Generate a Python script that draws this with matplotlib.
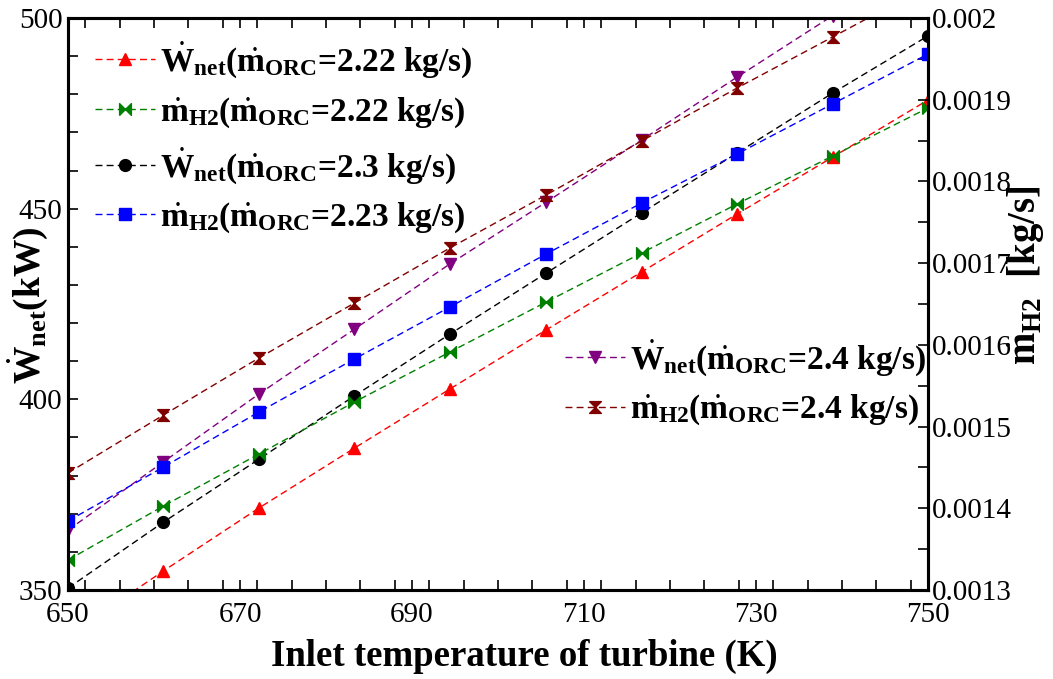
import matplotlib
matplotlib.use('Agg')
import matplotlib.pyplot as plt
from matplotlib.ticker import MultipleLocator, FuncFormatter
import numpy as np

plt.rcParams['font.family'] = 'Liberation Serif'
plt.rcParams['mathtext.fontset'] = 'custom'
plt.rcParams['mathtext.rm'] = 'Liberation Serif'
plt.rcParams['mathtext.bf'] = 'Liberation Serif:bold'
plt.rcParams['mathtext.it'] = 'Liberation Serif:italic'

# inlet temperature of turbine (K)
temp = [650.0, 661.1, 672.2, 683.3, 694.4, 705.6, 716.7, 727.8, 738.9, 750.0]

# net power (kW), left axis
w_222 = [338.0, 355.0, 371.5, 387.2, 402.7, 418.2, 433.4, 448.6, 463.5, 478.5]
w_23 = [350.5, 367.8, 384.3, 400.9, 417.1, 433.1, 448.9, 464.6, 480.3, 495.3]
w_24 = [365.7, 383.6, 401.4, 418.4, 435.5, 451.7, 468.0, 484.5, 500.6, 516.5]

# hydrogen mass flow (kg/s), right axis
h_222 = [0.0013367, 0.0014028, 0.0014664, 0.0015300, 0.0015912,
         0.0016524, 0.0017124, 0.0017724, 0.0018311, 0.0018899]
h_223 = [0.0013844, 0.0014505, 0.0015178, 0.0015827, 0.0016463,
         0.0017112, 0.0017736, 0.0018336, 0.0018948, 0.0019559]
h_24 = [0.0014432, 0.0015141, 0.0015839, 0.0016512, 0.0017185,
        0.0017834, 0.0018495, 0.0019143, 0.0019767, 0.0020392]

x_ticks = [650, 670, 690, 710, 730, 750]

bowtie = [(-1, -1), (1, 1), (1, -1), (-1, 1), (-1, -1)]
hourglass = [(-1, 1), (1, 1), (-1, -1), (1, -1), (-1, 1)]

def lab(sym, sub, m):
    return (r'$\dot{\mathbf{' + sym + r'}}_{\mathbf{' + sub + r'}}$('
            r'$\dot{\mathbf{m}}_{\mathbf{ORC}}$=' + m + ' kg/s)')

fig = plt.figure(figsize=(10.53, 6.79), dpi=100)
ax = fig.add_axes([0.0646, 0.1311, 0.8167, 0.8424])
ax2 = ax.twinx()

ls = dict(linestyle='--', linewidth=1.0, dashes=(5, 3), markersize=8.5)
l1, = ax.plot(temp, w_222, color='#ff0000', marker='^', label=lab('W', 'net', '2.22'), **ls)
l2, = ax2.plot(temp, h_222, color='#008000', marker=bowtie, label=lab('m', 'H2', '2.22'), **ls)
l3, = ax.plot(temp, w_23, color='black', marker='o', label=lab('W', 'net', '2.3'), **ls)
l4, = ax2.plot(temp, h_223, color='#0000ff', marker='s', label=lab('m', 'H2', '2.23'), **ls)
l5, = ax.plot(temp, w_24, color='#800080', marker='v', label=lab('W', 'net', '2.4'), **ls)
l6, = ax2.plot(temp, h_24, color='#800000', marker=hourglass, label=lab('m', 'H2', '2.4'), **ls)

ax.set_xlim(650, 750)
ax.set_ylim(350, 500)
ax2.set_ylim(0.0013, 0.002)

ax.set_xticks(x_ticks)
ax.xaxis.set_minor_locator(MultipleLocator(4))
ax.yaxis.set_major_locator(MultipleLocator(50))
ax.yaxis.set_minor_locator(MultipleLocator(10))
ax2.yaxis.set_major_locator(MultipleLocator(0.0001))
ax2.yaxis.set_minor_locator(MultipleLocator(0.00005))
ax2.yaxis.set_major_formatter(FuncFormatter(lambda v, p: '%g' % v))

ax.tick_params(axis='x', which='both', direction='in', top=True, length=7, width=1.2,
               labelsize=21, pad=9)
ax.tick_params(axis='y', which='both', direction='in', length=7, width=1.2,
               labelsize=21, pad=4)
ax2.tick_params(axis='y', which='both', direction='in', length=7, width=1.2,
                labelsize=21, pad=3)

for a in (ax, ax2):
    for s in a.spines.values():
        s.set_linewidth(2.2)

ax.set_xlabel('Inlet temperature of turbine (K)', fontsize=26.5, fontweight='bold')
ax.xaxis.label.set(va='center')
ax.xaxis.set_label_coords(0.531, -0.117)
ax.set_ylabel(r'$\dot{\mathbf{W}}_{\mathbf{net}}$(kW)', fontsize=27, fontweight='bold')
ax.yaxis.label.set(ha='center', va='center')
ax.yaxis.set_label_coords(-0.047, 0.498)
ax2.set_ylabel(r'$\dot{\mathbf{m}}_{\mathbf{H2}}$  [kg/s]', fontsize=28, fontweight='bold')
ax2.yaxis.label.set(ha='center', va='center')
ax2.yaxis.set_label_coords(1.114, 0.55)

lp = dict(frameon=False, prop={'size': 24, 'weight': 'bold'}, handlelength=1.8,
          labelspacing=0.45, handletextpad=0.15, borderpad=0, borderaxespad=0)
leg1 = ax2.legend(handles=[l1, l2, l3, l4], loc='upper left',
                  bbox_to_anchor=(0.031, 0.962), **lp)
ax2.add_artist(leg1)
ax2.legend(handles=[l5, l6], loc='upper left', bbox_to_anchor=(0.578, 0.442), **lp)

fig.savefig('out.png', dpi=100)
